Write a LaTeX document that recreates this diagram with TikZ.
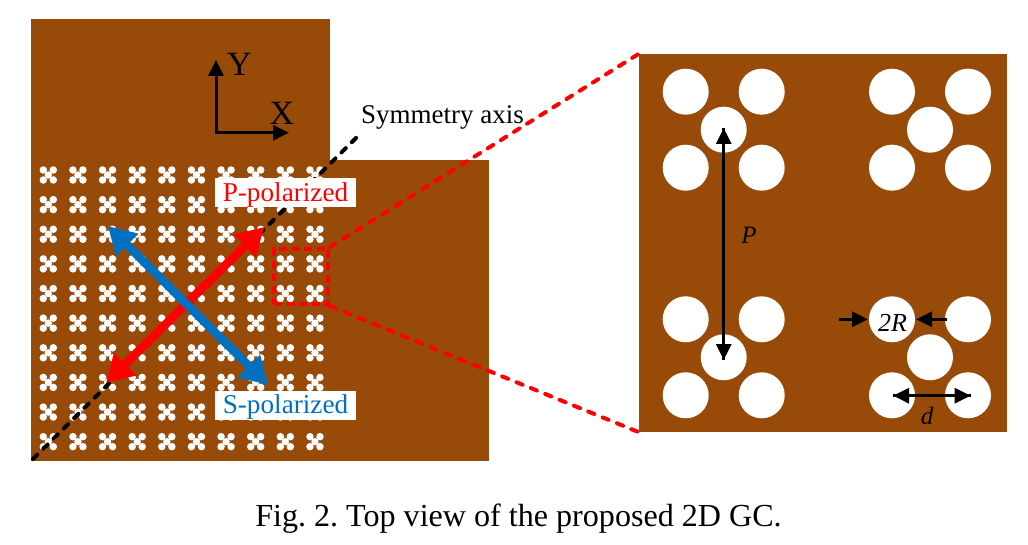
\documentclass[tikz,border=0pt]{standalone}
\usepackage{fontspec}
\setmainfont{Liberation Serif}
\usetikzlibrary{arrows.meta}
\definecolor{gcbrown}{HTML}{984B09}
\definecolor{gcblue}{HTML}{0070C0}
\tikzstyle{plate} = [rectangle, fill=gcbrown, inner sep=0pt]
\tikzstyle{hole} = [circle, fill=white, inner sep=0pt]
\tikzstyle{tag} = [rectangle, fill=white, inner sep=0pt, minimum width=141pt, minimum height=29pt, text height=21pt, text depth=3.6pt, font=\fontsize{27.2}{27}\selectfont]
\tikzstyle{caption text} = [inner sep=0pt, font=\fontsize{27}{27}\selectfont]
\tikzstyle{thin arrow} = [draw, line width=3pt, -{Triangle[length=16pt,width=15pt]}]
\tikzstyle{pol arrow} = [draw, line width=8.5pt, {Triangle[length=27pt,width=30pt]}-{Triangle[length=27pt,width=30pt]}]
\tikzstyle{zoom line} = [draw=red, line width=4pt, dash pattern=on 6.5pt off 9pt, line cap=round]

\begin{document}
\begin{tikzpicture}[x=1pt,y=-1pt]
         \useasboundingbox (0,0) rectangle (1028,545);

         \node (upper) [plate, minimum width=299pt, minimum height=142pt] at (180.5,90) {};
         \node (lower) [plate, minimum width=458pt, minimum height=301pt] at (260,310.5) {};
         \node (panel) [plate, minimum width=368pt, minimum height=378pt] at (823,243) {};

         % small holes of the grating
         \foreach \i in {0,...,9}
           \foreach \j in {0,...,9} {
             \node (cell\i\j) [hole, minimum size=7.5pt] at (48.3+29.63*\i,175+29.63*\j) {};
             \foreach \dx/\dy in {-5/-5,5/-5,-5/5,5/5}
               \node (cell\i\j\dx\dy) [hole, minimum size=7.5pt] at (48.3+29.63*\i+\dx,175+29.63*\j+\dy) {};
           }

         % large holes of the panel
         \foreach \cx/\cy/\hname in {723.7/129.7/a, 930/129.7/b, 723.7/357.3/c, 930/357.3/e} {
             \node (mid\hname) [hole, minimum size=46pt] at (\cx,\cy) {};
             \node (nw\hname) [hole, minimum size=46pt] at (\cx-38,\cy-38) {};
             \node (ne\hname) [hole, minimum size=46pt] at (\cx+38,\cy-38) {};
             \node (sw\hname) [hole, minimum size=46pt] at (\cx-38,\cy+38) {};
             \node (se\hname) [hole, minimum size=46pt] at (\cx+38,\cy+38) {};
         }

         \coordinate (axisA) at (33,459);
         \coordinate (axisB) at (357,137);
         \draw [line width=4pt, dash pattern=on 6pt off 8.5pt, line cap=round] (axisA) -- (axisB);

         \node (window) [rectangle, draw=red, line width=4pt, dash pattern=on 8pt off 4.5pt, inner sep=0pt, minimum width=54pt, minimum height=55pt] at (301,276.5) {};
         \path [zoom line] (window.north east) -- (panel.north west);
         \path [zoom line] (window.south east) -- (panel.south west);

         \coordinate (pA) at (106,383);
         \coordinate (pB) at (264,227);
         \coordinate (sA) at (108,226);
         \coordinate (sB) at (268,385);
         \path [pol arrow, red] (pA) -- (pB);
         \path [pol arrow, gcblue] (sA) -- (sB);

         \node (ptag) [tag, text=red] at (285.5,193) {P-polarized};
         \node (stag) [tag, text=gcblue] at (285.5,405) {S-polarized};
         \node (axislabel) [caption text] at (442.5,117) {Symmetry axis};

         % coordinate axes
         \coordinate (origin) at (216,132.7);
         \coordinate (yEnd) at (216,60);
         \coordinate (xEnd) at (289,132.7);
         \draw [-{Triangle[length=16pt,width=15pt]}, line width=3pt, shorten <=-1.5pt] (origin) -- (yEnd);
         \draw [-{Triangle[length=16pt,width=15pt]}, line width=3pt, shorten <=-1.5pt] (origin) -- (xEnd);
         \node (ylabel) [caption text, font=\fontsize{34}{34}\selectfont] at (239.5,64) {Y};
         \node (xlabel) [caption text, font=\fontsize{34}{34}\selectfont] at (282,113) {X};

         % dimensions
         \coordinate (pTop) at (723.7,128);
         \coordinate (pBot) at (723.7,360);
         \path [thin arrow] (pBot) -- (pTop);
         \path [thin arrow] (pTop) -- (pBot);
         \node (plabel) [caption text, font=\fontsize{25}{25}\selectfont\itshape] at (749,235) {P};

         \coordinate (rA) at (839,319.3);
         \coordinate (rB) at (868,319.3);
         \coordinate (rC) at (947,319.3);
         \coordinate (rD) at (916,319.3);
         \path [thin arrow] (rA) -- (rB);
         \path [thin arrow] (rC) -- (rD);
         \node (rlabel) [caption text, font=\fontsize{26}{26}\selectfont\itshape] at (892.5,323) {2R};

         \coordinate (dA) at (893,395.7);
         \coordinate (dB) at (970.7,395.7);
         \path [thin arrow] (dA) -- (dB);
         \path [thin arrow] (dB) -- (dA);
         \node (dlabel) [caption text, font=\fontsize{25}{25}\selectfont\itshape] at (927,416) {d};

         \node (caption) [caption text, font=\fontsize{32.1}{32}\selectfont, align=center] at (518.5,519) {\frenchspacing Fig. 2. Top view of the proposed 2D GC.};

     \end{tikzpicture}
\end{document}
